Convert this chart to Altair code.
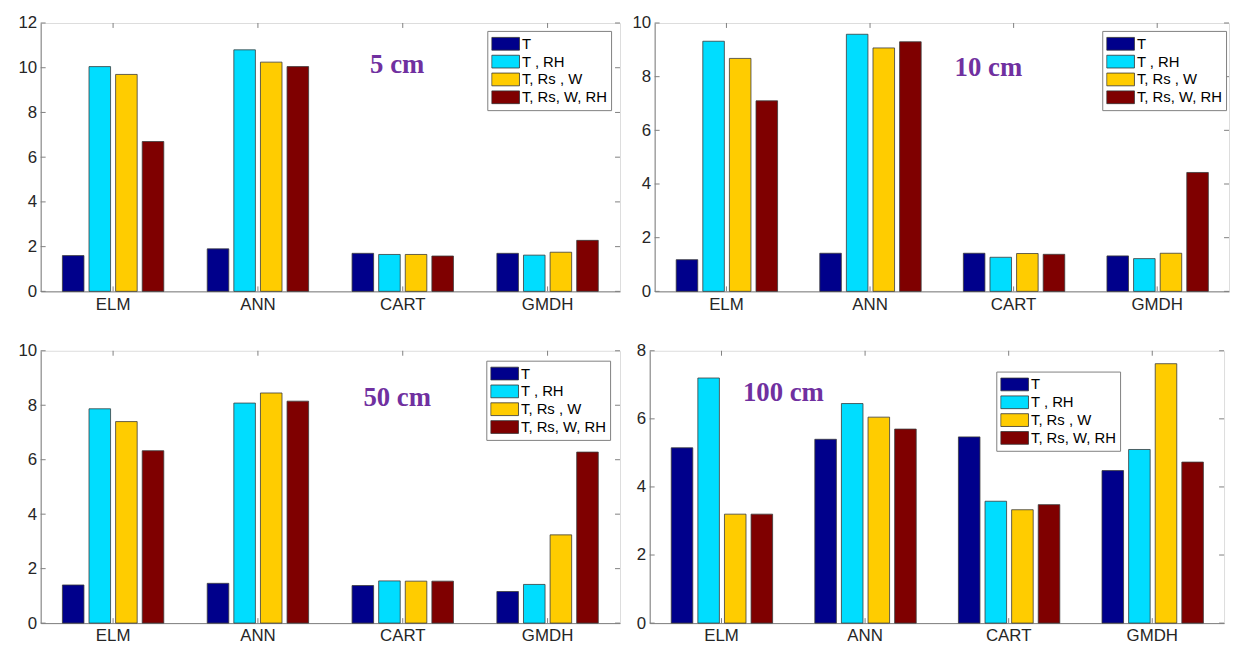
import altair as alt
import pandas as pd

models = ["ELM", "ANN", "CART", "GMDH"]
inputs = ["T", "T , RH", "T, Rs , W", "T, Rs, W, RH"]
colors = ["#00008B", "#00DDFF", "#FFCC00", "#7F0000"]

# 5 cm
cm5_T = [1.6, 1.9, 1.7, 1.7]
cm5_TRH = [10.05, 10.8, 1.65, 1.62]
cm5_TRsW = [9.7, 10.25, 1.65, 1.75]
cm5_all = [6.7, 10.05, 1.58, 2.28]

# 10 cm
cm10_T = [1.18, 1.42, 1.42, 1.32]
cm10_TRH = [9.32, 9.58, 1.27, 1.22]
cm10_TRsW = [8.68, 9.07, 1.41, 1.42]
cm10_all = [7.1, 9.3, 1.38, 4.43]

# 50 cm
cm50_T = [1.4, 1.46, 1.38, 1.16]
cm50_TRH = [7.87, 8.08, 1.55, 1.42]
cm50_TRsW = [7.4, 8.45, 1.54, 3.24]
cm50_all = [6.33, 8.15, 1.54, 6.28]

# 100 cm
cm100_T = [5.15, 5.4, 5.47, 4.48]
cm100_TRH = [7.2, 6.45, 3.58, 5.1]
cm100_TRsW = [3.2, 6.05, 3.33, 7.62]
cm100_all = [3.2, 5.7, 3.48, 4.73]

LABEL_FONT = "Liberation Sans"
RECT = "M-1,-0.46H1V0.46H-1Z"
TICK_COLOR = "#808080"


def panel(series, ymax, label, leg_x, leg_y, tx, ty, w, h, y_extent):
    rows = []
    for inp, vals in zip(inputs, series):
        for m, v in zip(models, vals):
            rows.append({"model": m, "input": inp, "value": v})
    df = pd.DataFrame(rows)
    xscale = alt.Scale(domain=models, paddingInner=0.3, paddingOuter=0.15)
    yscale = alt.Scale(domain=[0, ymax], nice=False)
    xaxis = alt.Axis(title=None, labelAngle=0, labelFontSize=17,
                     labelPadding=5, tickSize=0, domainColor="#808080",
                     labelColor="#262626", labelFont=LABEL_FONT)
    yaxis = alt.Axis(title=None, values=list(range(0, ymax + 1, 2)),
                     grid=False, tickSize=0, labelPadding=4,
                     minExtent=y_extent, maxExtent=y_extent,
                     labelFontSize=17, labelColor="#262626",
                     labelFont=LABEL_FONT, domainColor="#808080")
    bars = alt.Chart(df).mark_bar(stroke="#3a3a3a", strokeWidth=0.8).encode(
        x=alt.X("model:N", sort=models, scale=xscale, axis=xaxis),
        xOffset=alt.XOffset("input:N", sort=inputs,
                            scale=alt.Scale(paddingInner=0.19, paddingOuter=0)),
        y=alt.Y("value:Q", scale=yscale, axis=yaxis),
        color=alt.Color("input:N", sort=inputs,
                        scale=alt.Scale(domain=inputs, range=colors),
                        legend=alt.Legend(title=None, orient="none",
                                          legendX=leg_x, legendY=leg_y,
                                          labelFontSize=15, labelFont=LABEL_FONT,
                                          labelColor="#000000",
                                          symbolType=RECT, symbolSize=784,
                                          symbolStrokeColor="#333333",
                                          symbolStrokeWidth=0.8, symbolOpacity=1,
                                          clipHeight=18, rowPadding=0,
                                          labelOffset=2, padding=4,
                                          strokeColor="#808080",
                                          fillColor="white")),
    )
    # inward ticks (MATLAB style) on all four sides
    xt = pd.DataFrame({"model": models})
    xt_bottom = alt.Chart(xt).mark_rule(color=TICK_COLOR, strokeWidth=1).encode(
        x=alt.X("model:N", sort=models, scale=xscale, axis=xaxis),
        y=alt.value(h), y2=alt.value(h - 5))
    xt_top = alt.Chart(xt).mark_rule(color=TICK_COLOR, strokeWidth=1).encode(
        x=alt.X("model:N", sort=models, scale=xscale, axis=xaxis),
        y=alt.value(0), y2=alt.value(5))
    yt = pd.DataFrame({"value": list(range(0, ymax + 1, 2))})
    yt_left = alt.Chart(yt).mark_rule(color=TICK_COLOR, strokeWidth=1).encode(
        y=alt.Y("value:Q", scale=yscale, axis=yaxis),
        x=alt.value(0), x2=alt.value(5))
    yt_right = alt.Chart(yt).mark_rule(color=TICK_COLOR, strokeWidth=1).encode(
        y=alt.Y("value:Q", scale=yscale, axis=yaxis),
        x=alt.value(w), x2=alt.value(w - 5))
    txt = alt.Chart(pd.DataFrame({"t": [label]})).mark_text(
        font="Liberation Serif", fontWeight="bold", fontSize=27,
        color="#7030A0", align="center", baseline="middle"
    ).encode(x=alt.value(tx), y=alt.value(ty), text="t:N")
    return alt.layer(bars, xt_bottom, xt_top, yt_left, yt_right, txt).properties(width=w, height=h)


p1 = panel([cm5_T, cm5_TRH, cm5_TRsW, cm5_all], 12, "5 cm", 451, 8, 360, 42, 585, 271, 24)
p2 = panel([cm10_T, cm10_TRH, cm10_TRsW, cm10_all], 10, "10 cm", 452, 8, 337, 46, 580, 271, 24)
p3 = panel([cm50_T, cm50_TRH, cm50_TRsW, cm50_all], 10, "50 cm", 450, 10, 360, 48, 585, 275, 29)
p4 = panel([cm100_T, cm100_TRH, cm100_TRsW, cm100_all], 8, "100 cm", 350, 21, 135, 43, 580, 275, 24)

top = alt.hconcat(p1, p2, spacing=9).resolve_scale(color="independent").resolve_legend(color="independent")
bottom = alt.hconcat(p3, p4, spacing=4).resolve_scale(color="independent").resolve_legend(color="independent")

chart = alt.vconcat(top, bottom, spacing=28).resolve_scale(
    color="independent").resolve_legend(color="independent").properties(
    padding={"top": 2, "left": 3, "right": 0, "bottom": 0}
).configure_view(stroke="#808080", strokeWidth=1).configure(background="white")

chart.save("out.html", embed_options={"renderer": "svg", "actions": False})
